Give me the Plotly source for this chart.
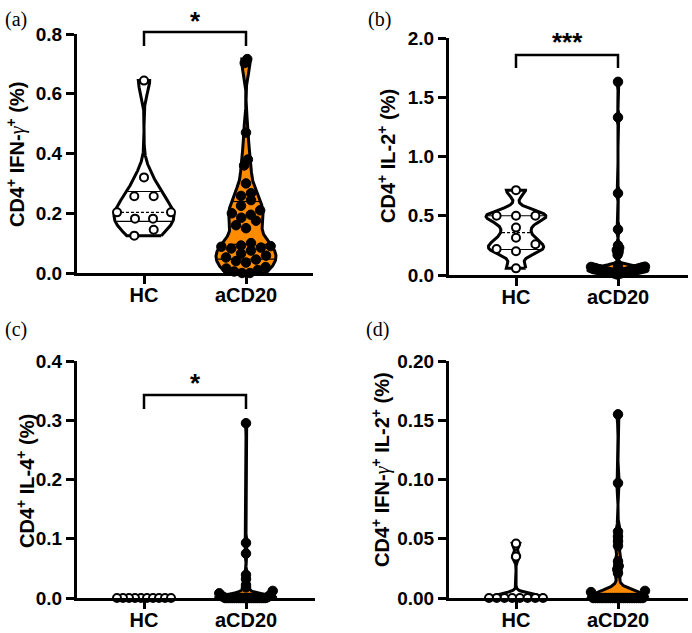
import numpy as np
import plotly.graph_objects as go

# ---------------- data ----------------
groups = ["HC", "aCD20"]

hc_ifng = [0.125, 0.145, 0.182, 0.182, 0.203, 0.203, 0.257, 0.257, 0.320, 0.644]
acd20_ifng = [0.716, 0.703, 0.470, 0.380, 0.360, 0.300, 0.267, 0.258, 0.244,
              0.225, 0.210, 0.200, 0.195, 0.185, 0.175, 0.160, 0.150, 0.100,
              0.092, 0.090, 0.088, 0.085, 0.082, 0.075, 0.065, 0.058, 0.052,
              0.045, 0.040, 0.035, 0.020, 0.015, 0.010, 0.005, 0.000, 0.000]

hc_il2 = [0.056, 0.200, 0.220, 0.260, 0.315, 0.400, 0.500, 0.500, 0.500, 0.716]
acd20_il2 = [1.630, 1.330, 0.690, 0.385, 0.250, 0.230, 0.210, 0.190, 0.170,
             0.075, 0.070, 0.068, 0.065, 0.062, 0.060, 0.058, 0.055, 0.052,
             0.050, 0.048, 0.045, 0.042, 0.040, 0.038, 0.035, 0.032, 0.030,
             0.028, 0.025, 0.022, 0.020, 0.018, 0.015, 0.012, 0.010, 0.005]

hc_il4 = [0.0, 0.0, 0.0, 0.0, 0.0, 0.0, 0.0, 0.0, 0.0, 0.0]
acd20_il4 = [0.295, 0.093, 0.075, 0.039, 0.032, 0.022, 0.018, 0.012, 0.008,
             0.006, 0.004, 0.003, 0.002, 0.001, 0.0, 0.0, 0.0, 0.0,
             0.0, 0.0, 0.0, 0.0, 0.0, 0.0, 0.0, 0.0, 0.0,
             0.0, 0.0, 0.0, 0.0, 0.0, 0.0, 0.0, 0.0, 0.0]

hc_dp = [0.046, 0.035, 0.0, 0.0, 0.0, 0.0, 0.0, 0.0, 0.0, 0.0]
acd20_dp = [0.155, 0.097, 0.056, 0.052, 0.048, 0.044, 0.031, 0.027, 0.024,
            0.021, 0.006, 0.005, 0.0, 0.0, 0.0, 0.0, 0.0, 0.0,
            0.0, 0.0, 0.0, 0.0, 0.0, 0.0, 0.0, 0.0, 0.0,
            0.0, 0.0, 0.0, 0.0, 0.0, 0.0, 0.0, 0.0, 0.0]

panel_letters = ["(a)", "(b)", "(c)", "(d)"]
GAM = '<span style="font-family:Liberation Serif;font-weight:normal;font-style:italic">γ</span>'
y_titles = [
    "CD4<sup>+</sup> IFN-" + GAM + "<sup>+</sup> (%)",
    "CD4<sup>+</sup> IL-2<sup>+</sup> (%)",
    "CD4<sup>+</sup> IL-4<sup>+</sup> (%)",
    "CD4<sup>+</sup> IFN-" + GAM + "<sup>+</sup> IL-2<sup>+</sup> (%)",
]
y_max = [0.8, 2.0, 0.4, 0.20]
y_dtick = [0.2, 0.5, 0.1, 0.05]
y_fmt = [".1f", ".1f", ".1f", ".2f"]
sig_text = ["*", "***", "*", ""]

panel_data = [(hc_ifng, acd20_ifng), (hc_il2, acd20_il2),
              (hc_il4, acd20_il4), (hc_dp, acd20_dp)]

# ---------------- layout / style ----------------
W_FIG, H_FIG = 692, 633
# pixel boxes: left, right, bottom(y=0), top(y=max)
boxes = [(77, 313, 273, 34), (449, 688, 275, 38), (77, 315, 598, 361), (449, 688, 598, 361)]
HC_OFF, PX_PER_CAT = 67, 102
bandwidth = [(0.042, 0.04), (0.05, 0.022), (0.01, 0.005), (0.003, 0.0052)]
fills = ["white", "#FF8C00"]
swarm_space = [19.4, 10.0]
title_x = [16, 386, 25, 381]
title_y = [155, 156, 481, 470]
# bracket: (line y, leg bottom y, star y) in px
brackets = [(32, 46, 17), (55, 68, 38), (395, 409, 379), None]
letter_pos = [(3, 6), (366, 6), (3, 316), (364, 316)]
VIOLIN_HALF_PX = 30.0
SWARM_MAX_PX = 27.0

FONT = "Liberation Sans, Arial, sans-serif"


def kde(vals, grid, h):
    v = np.asarray(vals, float)[None, :]
    g = grid[:, None]
    return np.exp(-0.5 * ((g - v) / h) ** 2).sum(axis=1)


def swarm(vals, ypx, space_px, halfwidth_px, xpx, thr=8.0):
    """Row-based swarm; each row is spread no wider than the violin at that height."""
    vals = np.asarray(vals, float)
    order = np.argsort(vals, kind="stable")
    rows, cur, start = [], [], None
    for i in order:
        yp = vals[i] * ypx
        if cur and yp - start > thr:
            rows.append(cur)
            cur = []
        if not cur:
            start = yp
        cur.append(i)
    if cur:
        rows.append(cur)
    off = np.zeros(len(vals))
    for row in rows:
        n = len(row)
        ymean = float(np.mean(vals[row]))
        maxhalf = max(0.0, min(SWARM_MAX_PX, halfwidth_px(ymean) - 3.0))
        sp = space_px if n == 1 else min(space_px, 2 * maxhalf / (n - 1))
        pos = [(k - (n - 1) / 2) * sp for k in range(n)]
        pos_sorted = sorted(pos, key=lambda p: (round(abs(p), 6), p))
        for idx, p in zip(row, pos_sorted):
            off[idx] = p / xpx
    return off


fig = go.Figure()
layout = dict(width=W_FIG, height=H_FIG, margin=dict(l=0, r=0, t=0, b=0, pad=0),
              autosize=False,
              paper_bgcolor="white", plot_bgcolor="white", showlegend=False)
shapes, annotations = [], []

for p in range(4):
    left, right, bottom, top = boxes[p]
    xa = "x" if p == 0 else f"x{p+1}"
    ya = "y" if p == 0 else f"y{p+1}"
    xkey = "xaxis" if p == 0 else f"xaxis{p+1}"
    ykey = "yaxis" if p == 0 else f"yaxis{p+1}"
    x0 = -HC_OFF / PX_PER_CAT
    x1 = (right - left - HC_OFF) / PX_PER_CAT
    ypx = (bottom - top) / y_max[p]
    xpx = PX_PER_CAT
    halfw = VIOLIN_HALF_PX / xpx

    for g in range(2):
        vals = np.asarray(panel_data[p][g], float)
        c = float(g)
        lo, hi = vals.min(), vals.max()
        if hi > lo:
            ys = np.linspace(lo, hi, 400)
            d = kde(vals, ys, bandwidth[p][g])
            w = d / d.max() * halfw
            px_ = np.concatenate([c + w, (c - w)[::-1], [c + w[0]]])
            py_ = np.concatenate([ys, ys[::-1], [ys[0]]])
            fig.add_trace(go.Scatter(x=px_, y=py_, xaxis=xa, yaxis=ya, mode="lines",
                                     fill="toself", fillcolor=fills[g],
                                     line=dict(color="black", width=3),
                                     hoverinfo="skip"))
            qs = np.percentile(vals, [25, 50, 75], method="weibull")
            for qi, q in enumerate(qs):
                wq = np.interp(q, ys, w) - 1.5 / xpx
                if wq <= 0:
                    continue
                fig.add_trace(go.Scatter(x=[c - wq, c + wq], y=[q, q], xaxis=xa, yaxis=ya,
                                         mode="lines",
                                         line=dict(color="black", width=1.2,
                                                   dash="3px,2px" if qi == 1 else "solid"),
                                         hoverinfo="skip"))

            def hw_fn(y, ys=ys, w=w):
                return float(np.interp(y, ys, w)) * xpx
        else:
            def hw_fn(y):
                return SWARM_MAX_PX + 3.0
        off = swarm(vals, ypx, swarm_space[g], hw_fn, xpx)
        if g == 0:
            marker = dict(symbol="circle", size=8, color="white",
                          line=dict(color="black", width=2))
        else:
            marker = dict(symbol="circle", size=9.5, color="black",
                          line=dict(color="black", width=1))
        fig.add_trace(go.Scatter(x=c + off, y=vals, xaxis=xa, yaxis=ya, mode="markers",
                                 marker=marker, cliponaxis=False, hoverinfo="skip"))

    layout[xkey] = dict(domain=[left / W_FIG, right / W_FIG], range=[x0, x1],
                        anchor=ya, tickvals=[0, 1], ticktext=groups, automargin=False,
                        showline=True, linecolor="black", linewidth=3,
                        ticks="outside", ticklen=8, tickwidth=2.5, tickcolor="black",
                        ticklabelstandoff=-6,
                        showgrid=False, zeroline=False,
                        tickfont=dict(family=FONT, size=20, color="black", weight="bold"))
    layout[ykey] = dict(domain=[1 - bottom / H_FIG, 1 - top / H_FIG], range=[0, y_max[p]],
                        anchor=xa, dtick=y_dtick[p], tick0=0, tickformat=y_fmt[p],
                        automargin=False,
                        showline=True, linecolor="black", linewidth=3,
                        ticks="outside", ticklen=8, tickwidth=2.5, tickcolor="black",
                        showgrid=False, zeroline=False,
                        tickfont=dict(family=FONT, size=19, color="black", weight="bold"))

    annotations.append(dict(text=y_titles[p], xref="paper", yref="paper",
                            x=title_x[p] / W_FIG, y=1 - title_y[p] / H_FIG,
                            xanchor="center", yanchor="middle", textangle=-90,
                            showarrow=False,
                            font=dict(family=FONT, size=20, color="black", weight="bold")))
    annotations.append(dict(text=panel_letters[p], xref="paper", yref="paper",
                            x=letter_pos[p][0] / W_FIG, y=1 - letter_pos[p][1] / H_FIG,
                            xanchor="left", yanchor="top", showarrow=False,
                            font=dict(family="Liberation Serif, Times New Roman, serif",
                                      size=20, color="black")))
    if brackets[p] is not None and sig_text[p]:
        by, leg, sy = brackets[p]
        xl = (left + HC_OFF) / W_FIG
        xr = (left + HC_OFF + PX_PER_CAT) / W_FIG
        yb = 1 - by / H_FIG
        yl = 1 - leg / H_FIG
        shapes.append(dict(type="path", xref="paper", yref="paper",
                           path=f"M {xl} {yl} L {xl} {yb} L {xr} {yb} L {xr} {yl}",
                           line=dict(color="black", width=2.5)))
        annotations.append(dict(text=sig_text[p], xref="paper", yref="paper",
                                x=((left + HC_OFF + PX_PER_CAT / 2) / W_FIG),
                                y=1 - (sy + 4) / H_FIG, xanchor="center", yanchor="middle",
                                showarrow=False,
                                font=dict(family=FONT, size=26, color="black", weight="bold")))

layout["shapes"] = shapes
layout["annotations"] = annotations
fig.update_layout(**layout)
fig.write_html("out.html", config={"displayModeBar": False},
               post_script="document.body.style.margin='0';document.body.style.padding='0';"
                           "document.body.style.overflow='hidden';")
